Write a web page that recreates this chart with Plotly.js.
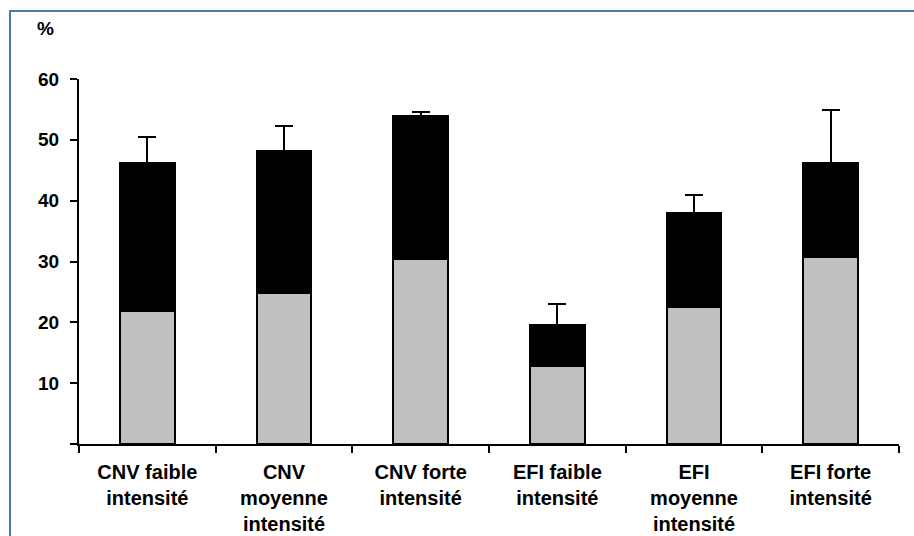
<!DOCTYPE html>
<html>
<head>
<meta charset="utf-8">
<script src="https://cdn.plot.ly/plotly-3.0.1.min.js"></script>
<style>
html,body{margin:0;padding:0;background:#fff;}
#chart{width:914px;height:536px;}
</style>
</head>
<body>
<div id="chart"></div>
<script>
const categories = [
  "CNV faible<br>intensité",
  "CNV<br>moyenne<br>intensité",
  "CNV forte<br>intensité",
  "EFI faible<br>intensité",
  "EFI<br>moyenne<br>intensité",
  "EFI forte<br>intensité"
];
const lowerValues = [21.9, 24.8, 30.4, 12.8, 22.5, 30.8];
const upperValues = [24.3, 23.4, 23.5, 6.7, 15.5, 15.4];
const upperErrors = [4.3, 4.0, 0.6, 3.5, 3.0, 8.7];
const yTicks = [0, 10, 20, 30, 40, 50, 60];
const yTickText = ["", "10", "20", "30", "40", "50", "60"];

const fontFam = "Liberation Sans, Arial, sans-serif";

const traces = [
  {
    type: "bar",
    x: categories,
    y: lowerValues,
    marker: {color: "#c0c0c0", line: {color: "#000", width: 2}},
    hoverinfo: "skip"
  },
  {
    type: "bar",
    x: categories,
    y: upperValues,
    marker: {color: "#000000", line: {color: "#000", width: 2}},
    error_y: {
      type: "data",
      symmetric: false,
      array: upperErrors,
      arrayminus: upperErrors.map(() => 0),
      color: "#000",
      thickness: 2,
      width: 9
    },
    hoverinfo: "skip"
  }
];

const L = 79, R = 899, T = 79, B = 444;
const px = p => (p - L) / (R - L);
const py = p => (B - p) / (B - T);

const layout = {
  width: 914,
  height: 536,
  margin: {l: L, r: 914 - R, t: T, b: 536 - B},
  paper_bgcolor: "#fff",
  plot_bgcolor: "#fff",
  showlegend: false,
  barmode: "stack",
  bargap: 0.6,
  font: {family: fontFam, color: "#000"},
  xaxis: {
    type: "category",
    tickson: "boundaries",
    ticks: "outside",
    ticklen: 7,
    tickwidth: 2,
    tickcolor: "#000",
    showline: true,
    linecolor: "#000",
    linewidth: 2,
    showgrid: false,
    zeroline: false,
    tickangle: 0,
    ticklabelstandoff: 9,
    tickfont: {family: fontFam, size: 20, color: "#000", weight: "bold"},
    fixedrange: true
  },
  yaxis: {
    range: [0, 60],
    tickvals: yTicks,
    ticktext: yTickText,
    ticks: "outside",
    ticklen: 7,
    tickwidth: 2,
    tickcolor: "#000",
    showline: true,
    linecolor: "#000",
    linewidth: 2,
    showgrid: false,
    zeroline: false,
    ticklabelstandoff: 7,
    tickfont: {family: fontFam, size: 19, color: "#000", weight: "bold"},
    fixedrange: true
  },
  annotations: [
    {
      text: "<b>%</b>",
      xref: "paper", yref: "paper",
      x: px(45), y: py(29),
      xanchor: "center", yanchor: "middle",
      showarrow: false,
      font: {family: fontFam, size: 19, color: "#000"}
    }
  ],
  shapes: [
    {
      type: "path",
      xref: "paper", yref: "paper",
      path: "M " + px(10) + "," + py(540) + " L " + px(10) + "," + py(11) + " L " + px(916) + "," + py(11),
      line: {color: "#4f7aa6", width: 2}
    }
  ]
};

Plotly.newPlot("chart", traces, layout, {displayModeBar: false, staticPlot: true});
</script>
</body>
</html>
